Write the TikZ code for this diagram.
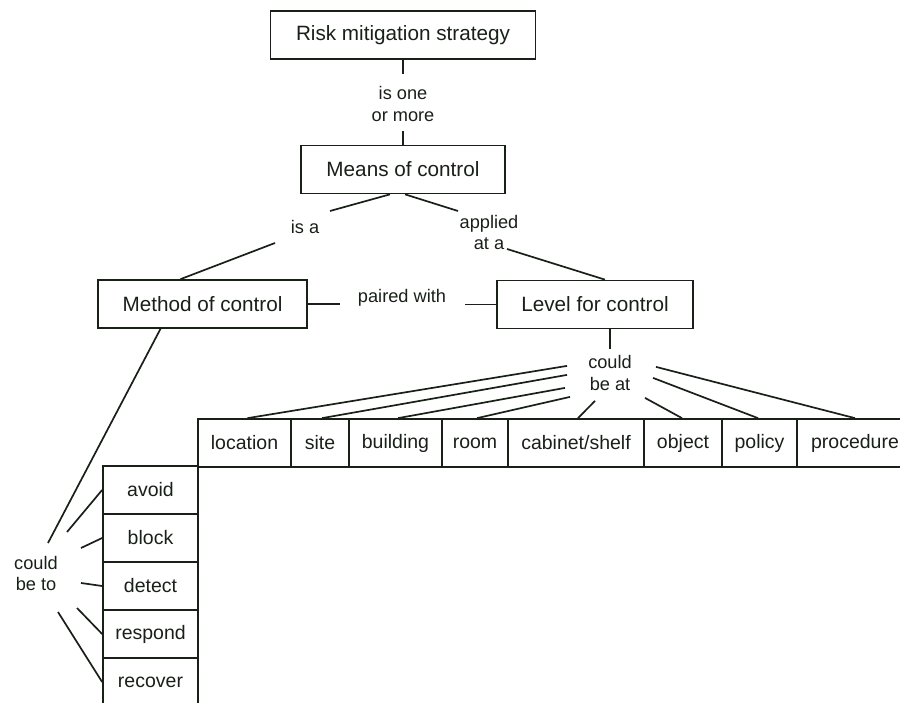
\documentclass[tikz,border=0pt]{standalone}
\usepackage{fontspec}
\setmainfont{Liberation Sans}
\definecolor{ink}{RGB}{24,32,24}

\begin{document}
\begin{tikzpicture}[x=1pt, y=-1pt, color=ink, line width=1.7pt,
		concept/.style={draw, minimum height=48pt, inner sep=0pt, font=\fontsize{20.7}{22}\selectfont},
		cell/.style={draw, minimum height=48pt, inner sep=0pt, font=\fontsize{19.5}{21}\selectfont},
		link/.style={inner sep=0pt, align=center, font=\fontsize{18.2}{21.5}\selectfont}]
		\useasboundingbox (0,0) rectangle (900,703);

		% concepts and linking words
		\node[concept, minimum width=265pt] (risk) at (403, 35)    {Risk mitigation strategy};
		\node[link]                         (one)  at (403, 104)   {is one\\or more};
		\node[concept, minimum width=204pt] (mean) at (403, 169.5) {Means of control};
		\node[link]                         (isa)  at (305, 226.7) {is a};
		\node[link]                         (appl) at (489, 232.5) {applied\\at a};
		\node[concept, minimum width=209pt] (meth) at (202.5, 304) {Method of control};
		\node[link]                         (pair) at (402, 297.3) {paired with};
		\node[concept, minimum width=196pt] (lvl)  at (595, 304.5) {Level for control};
		\node[link]                         (beat) at (610, 372.9) {could\\be at};
		\node[link]                         (beto) at (36, 573.7)  {could\\be to};

		% levels
		\node[cell, minimum width=93pt]  (loc)  at (244.5, 443) {location};
		\node[cell, minimum width=58pt]  (site) at (320, 443)   {site};
		\node[cell, minimum width=93pt]  (bldg) at (395.5, 443) {building};
		\node[cell, minimum width=66pt]  (room) at (475, 443)   {room};
		\node[cell, minimum width=136pt] (cab)  at (576, 443)   {cabinet/shelf};
		\node[cell, minimum width=78pt]  (obj)  at (683, 443)   {object};
		\node[cell, minimum width=75pt]  (pol)  at (759.5, 443) {policy};
		\node[cell, minimum width=116pt] (proc) at (855, 443)   {procedure};

		% methods
		\node[cell, minimum width=95pt] (avo)  at (150.5, 490) {avoid};
		\node[cell, minimum width=95pt] (blk)  at (150.5, 538) {block};
		\node[cell, minimum width=95pt] (det)  at (150.5, 586) {detect};
		\node[cell, minimum width=95pt] (resp) at (150.5, 634) {respond};
		\node[cell, minimum width=95pt] (rec)  at (150.5, 682) {recover};

		\draw[-] (risk.south) -- ([shift={(0,-30)}]one.center);
		\draw[-] ([shift={(0,27)}]one.center) -- (mean.north);
		\draw[-] ([shift={(-13,0)}]mean.south) -- ([shift={(25,-15.7)}]isa.center);
		\draw[-] ([shift={(-30,16.3)}]isa.center) -- ([shift={(-22,0)}]meth.north);
		\draw[-] ([shift={(2,0)}]mean.south) -- ([shift={(-31,-21.5)}]appl.center);
		\draw[-] ([shift={(18,16.5)}]appl.center) -- ([shift={(10,0)}]lvl.north);
		\draw[-] (meth.east) -- ([shift={(-62,6.7)}]pair.center);
		\draw[-] ([shift={(63,7.2)}]pair.center) -- (lvl.west);
		\draw[-] ([shift={(15,0)}]lvl.south) -- ([shift={(0,-23.9)}]beat.center);

		\draw[-] ([shift={(-43,-7)}]beat.center) -- ([shift={(3,0)}]loc.north);
		\draw[-] ([shift={(-43,2)}]beat.center)  -- ([shift={(2,0)}]site.north);
		\draw[-] ([shift={(-45,15)}]beat.center) -- ([shift={(2.5,0)}]bldg.north);
		\draw[-] ([shift={(-40,24)}]beat.center) -- ([shift={(2,0)}]room.north);
		\draw[-] ([shift={(-15,28)}]beat.center) -- ([shift={(2,0)}]cab.north);
		\draw[-] ([shift={(35,25)}]beat.center)  -- ([shift={(-1,0)}]obj.north);
		\draw[-] ([shift={(43,5)}]beat.center)   -- ([shift={(-1.5,0)}]pol.north);
		\draw[-] ([shift={(46,-6)}]beat.center)  -- (proc.north);

		\draw[-] ([shift={(-42,0)}]meth.south) -- ([shift={(12,-30.7)}]beto.center);
		\draw[-] ([shift={(31,-41.7)}]beto.center) -- (avo.west);
		\draw[-] ([shift={(45,-25.7)}]beto.center) -- (blk.west);
		\draw[-] ([shift={(45,9.3)}]beto.center)   -- (det.west);
		\draw[-] ([shift={(41,34.3)}]beto.center)  -- (resp.west);
		\draw[-] ([shift={(22,38.3)}]beto.center)  -- (rec.west);
	\end{tikzpicture}
\end{document}
